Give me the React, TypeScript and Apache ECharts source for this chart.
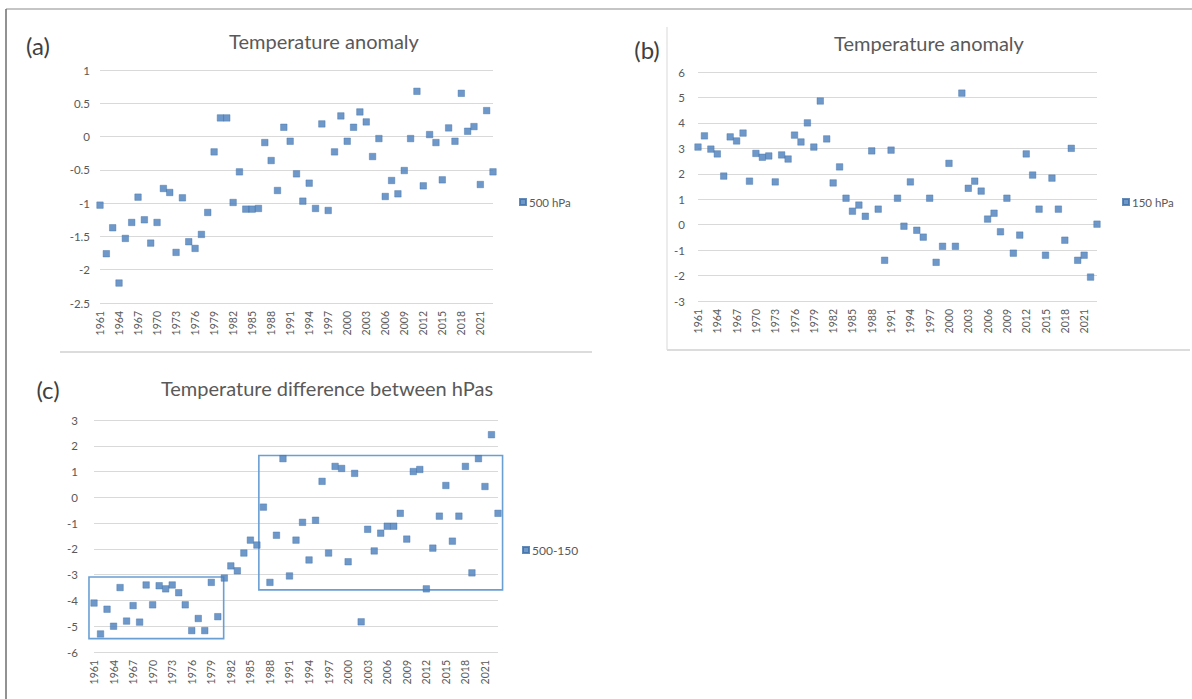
import React, { useEffect, useRef } from 'react';
import * as echarts from 'echarts';

const years = [
  '1961','1962','1963','1964','1965','1966','1967','1968','1969','1970',
  '1971','1972','1973','1974','1975','1976','1977','1978','1979','1980',
  '1981','1982','1983','1984','1985','1986','1987','1988','1989','1990',
  '1991','1992','1993','1994','1995','1996','1997','1998','1999','2000',
  '2001','2002','2003','2004','2005','2006','2007','2008','2009','2010',
  '2011','2012','2013','2014','2015','2016','2017','2018','2019','2020',
  '2021','2022','2023'
];

const temp500 = [
  -1.03, -1.76, -1.37, -2.2, -1.53, -1.29, -0.91, -1.25, -1.6, -1.29,
  -0.78, -0.84, -1.74, -0.92, -1.58, -1.68, -1.47, -1.14, -0.23, 0.28,
  0.28, -0.99, -0.53, -1.09, -1.09, -1.08, -0.09, -0.36, -0.81, 0.14,
  -0.07, -0.56, -0.97, -0.7, -1.08, 0.19, -1.11, -0.23, 0.31, -0.07,
  0.14, 0.37, 0.22, -0.3, -0.03, -0.9, -0.66, -0.86, -0.51, -0.03,
  0.68, -0.74, 0.03, -0.09, -0.65, 0.13, -0.07, 0.65, 0.08, 0.15,
  -0.72, 0.39, -0.53
];

const temp150 = [
  3.05, 3.49, 2.97, 2.78, 1.91, 3.45, 3.29, 3.6, 1.71, 2.8,
  2.65, 2.7, 1.68, 2.74, 2.58, 3.52, 3.25, 4.0, 3.05, 4.86,
  3.37, 1.64, 2.27, 1.04, 0.53, 0.77, 0.33, 2.9, 0.61, -1.4,
  2.93, 1.04, -0.06, 1.68, -0.22, -0.49, 1.04, -1.48, -0.85, 2.41,
  -0.85, 5.17, 1.43, 1.71, 1.32, 0.22, 0.45, -0.28, 1.04, -1.12,
  -0.41, 2.78, 1.95, 0.61, -1.2, 1.83, 0.61, -0.61, 3.0, -1.4,
  -1.2, -2.06, 0.02
];

const diff500150 = [
  -4.1, -5.3, -4.34, -5.0, -3.5, -4.8, -4.2, -4.84, -3.4, -4.17,
  -3.43, -3.55, -3.4, -3.7, -4.17, -5.17, -4.7, -5.17, -3.3, -4.63,
  -3.13, -2.66, -2.85, -2.16, -1.66, -1.85, -0.38, -3.3, -1.47, 1.5,
  -3.05, -1.66, -0.97, -2.43, -0.89, 0.62, -2.16, 1.2, 1.12, -2.5,
  0.93, -4.83, -1.24, -2.08, -1.39, -1.12, -1.12, -0.62, -1.62, 1.0,
  1.08, -3.55, -1.97, -0.73, 0.46, -1.7, -0.73, 1.2, -2.93, 1.5,
  0.42, 2.43, -0.62
];

// highlight boxes in panel (c): [startIndex, top value, endIndex, bottom value]
const diffBoxes = [
  [-0.77, -3.09, 19.9, -5.48],
  [25.3, 1.62, 62.7, -3.59]
];

const yRangeA = [-2.5, 1, 0.5];
const yRangeB = [-3, 6, 1];
const yRangeC = [-6, 3, 1];

const FONT = 'Lato, "Open Sans", sans-serif';
const TXT = '#595959';
const MARK = '#4a7ebb';

function catAxis(gridIndex: number) {
  return {
    type: 'category',
    gridIndex,
    data: years,
    boundaryGap: false,
    axisLine: { show: false },
    axisTick: { show: false },
    splitLine: { show: false },
    axisLabel: {
      rotate: 90,
      interval: 2,
      fontSize: 10.5,
      color: TXT,
      margin: 8,
      fontFamily: FONT
    }
  };
}

function valAxis(gridIndex: number, r: number[], margin: number) {
  return {
    type: 'value',
    gridIndex,
    min: r[0],
    max: r[1],
    interval: r[2],
    axisLine: { show: false },
    axisTick: { show: false },
    axisLabel: { fontSize: 11.5, color: TXT, margin, fontFamily: FONT },
    splitLine: { lineStyle: { color: '#d9d9d9', width: 1 } }
  };
}

function scatter(name: string, idx: number, data: number[]) {
  return {
    name,
    type: 'scatter',
    xAxisIndex: idx,
    yAxisIndex: idx,
    data,
    symbol: 'rect',
    symbolSize: 6.5,
    itemStyle: { color: MARK, borderColor: '#3f6fa6', borderWidth: 0.5 }
  };
}

function legend(name: string, left: number, top: number, fontSize: number) {
  return {
    data: [name],
    left,
    top,
    padding: 0,
    icon: 'rect',
    itemWidth: 6,
    itemHeight: 6,
    itemGap: 4,
    textStyle: { fontSize, color: TXT, fontFamily: FONT, padding: [0, 0, 0, -2] }
  };
}

function txt(text: string, x: number, y: number, size: number, color: string) {
  return {
    type: 'text',
    x,
    y,
    style: {
      text,
      align: 'center',
      verticalAlign: 'middle',
      fontSize: size,
      fill: color,
      fontFamily: FONT
    }
  };
}

function ln(x1: number, y1: number, x2: number, y2: number, color: string, w: number) {
  return {
    type: 'line',
    shape: { x1, y1, x2, y2 },
    style: { stroke: color, lineWidth: w }
  };
}

export default function App() {
  const ref = useRef<HTMLDivElement>(null);

  useEffect(() => {
    if (!ref.current) return;
    const chart = echarts.init(ref.current, undefined, { renderer: 'svg' });
    const option: any = {
      animation: false,
      backgroundColor: '#ffffff',
      textStyle: { fontFamily: FONT },
      grid: [
        { left: 100, top: 70, width: 393, height: 233 },
        { left: 698, top: 72, width: 399, height: 229 },
        { left: 94, top: 420, width: 404, height: 232 }
      ],
      xAxis: [
        catAxis(0),
        catAxis(1),
        catAxis(2),
        { type: 'value', gridIndex: 2, min: 0, max: 62, show: false }
      ],
      yAxis: [
        valAxis(0, yRangeA, 10),
        valAxis(1, yRangeB, 13),
        valAxis(2, yRangeC, 16)
      ],
      legend: [
        legend('500 hPa', 519, 196, 11.5),
        legend('150 hPa', 1122, 196, 11.5),
        legend('500-150', 522, 544, 12)
      ],
      series: [
        scatter('500 hPa', 0, temp500),
        scatter('150 hPa', 1, temp150),
        scatter('500-150', 2, diff500150),
        {
          name: 'boxes',
          type: 'custom',
          xAxisIndex: 3,
          yAxisIndex: 2,
          clip: false,
          silent: true,
          encode: { x: [0, 2], y: [1, 3] },
          data: diffBoxes,
          renderItem: (params: any, api: any) => {
            const p0 = api.coord([api.value(0), api.value(1)]);
            const p1 = api.coord([api.value(2), api.value(3)]);
            return {
              type: 'rect',
              shape: { x: p0[0], y: p0[1], width: p1[0] - p0[0], height: p1[1] - p0[1] },
              style: { fill: 'none', stroke: '#6a9fd4', lineWidth: 1.6 }
            };
          }
        }
      ],
      graphic: [
        ln(6, 9, 1192, 9, '#8c8c8c', 1.2),
        ln(6, 9, 6, 699, '#6e6e6e', 1.5),
        ln(60, 352, 592, 352, '#dcdcdc', 2),
        ln(667, 27, 667, 350, '#e6e6e6', 1.5),
        ln(667, 350, 1190, 350, '#dcdcdc', 2),
        txt('(a)', 38, 45, 24, '#404040'),
        txt('(b)', 647, 49, 24, '#404040'),
        txt('(c)', 48, 389, 24, '#404040'),
        txt('Temperature anomaly', 324, 41, 20, TXT),
        txt('Temperature anomaly', 929, 43, 20, TXT),
        txt('Temperature difference between hPas', 327, 388, 20, TXT)
      ]
    };
    chart.setOption(option);
    return () => chart.dispose();
  }, []);

  return (
    <div
      ref={ref}
      style={{ position: 'fixed', left: 0, top: 0, width: 1192, height: 699, background: '#fff' }}
    />
  );
}
